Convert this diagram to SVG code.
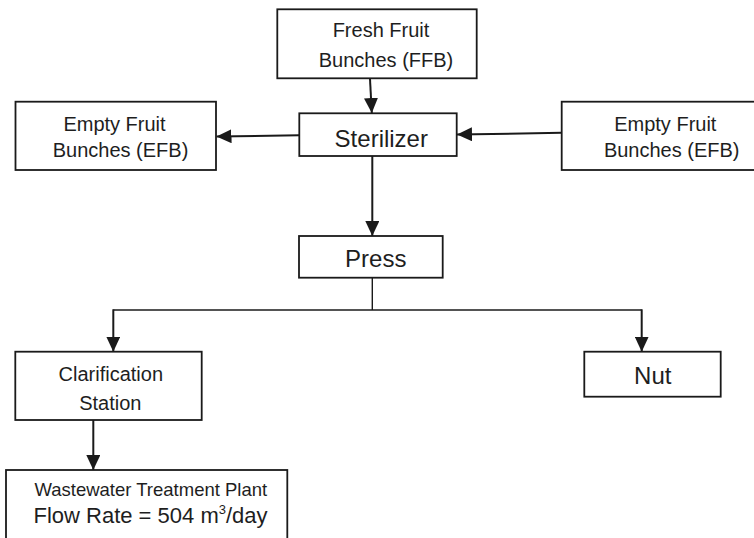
<svg xmlns="http://www.w3.org/2000/svg" width="754" height="538" viewBox="0 0 754 538">
<style>
.box{fill:#fff;stroke:#1a1a1a;stroke-width:1.8}
.t{font-family:"Liberation Sans",Arial,sans-serif;fill:#1e1e1e;text-anchor:middle}
.s{font-size:20px}
.b{font-size:24px}
.c{fill:none;stroke:#1a1a1a;stroke-width:2}
.thin{stroke-width:1.4}
</style>
<defs>
<marker id="ah" markerUnits="userSpaceOnUse" markerWidth="15" markerHeight="14" refX="15" refY="7" orient="auto">
<path d="M0,0 L15,7 L0,14 z" fill="#1a1a1a"/>
</marker>
</defs>
<rect width="754" height="538" fill="#fff"/>
<g id="connectors">
<line class="c" x1="370" y1="79" x2="371.8" y2="113" marker-end="url(#ah)"/>
<line class="c" x1="299.5" y1="135.3" x2="216.5" y2="136.6" marker-end="url(#ah)"/>
<line class="c" x1="561.7" y1="132.7" x2="457" y2="134.6" marker-end="url(#ah)"/>
<line class="c" x1="372.3" y1="156" x2="372.3" y2="236" marker-end="url(#ah)"/>
<polyline class="c thin" points="372.3,277.7 372.3,310"/>
<polyline class="c thin" points="113.3,310 641.7,310"/>
<line class="c" x1="113.3" y1="309.3" x2="113.3" y2="351.7" marker-end="url(#ah)"/>
<line class="c" x1="641.7" y1="309.3" x2="641.7" y2="351.7" marker-end="url(#ah)"/>
<line class="c" x1="93.3" y1="420" x2="93.3" y2="470" marker-end="url(#ah)"/>
</g>
<g id="ffb">
<rect class="box" x="277.3" y="9.3" width="199.4" height="69"/>
<text class="t s" x="381" y="37.3">Fresh Fruit</text>
<text class="t s" x="386" y="66.7">Bunches (FFB)</text>
</g>
<g id="sterilizer">
<rect class="box" x="299.3" y="113.3" width="157.4" height="42.7"/>
<text class="t b" x="381.3" y="146.7">Sterilizer</text>
</g>
<g id="efb-left">
<rect class="box" x="15.5" y="101.7" width="200.5" height="68.3"/>
<text class="t s" x="114.5" y="130.7">Empty Fruit</text>
<text class="t s" x="120.5" y="156.7">Bunches (EFB)</text>
</g>
<g id="efb-right">
<rect class="box" x="561.7" y="101.7" width="210" height="68.3"/>
<text class="t s" x="665.3" y="130.7">Empty Fruit</text>
<text class="t s" x="671.7" y="156.7">Bunches (EFB)</text>
</g>
<g id="press">
<rect class="box" x="299" y="236" width="143.7" height="41.7"/>
<text class="t b" x="375.8" y="266.7">Press</text>
</g>
<g id="clarification">
<rect class="box" x="15.3" y="351.7" width="186.4" height="68.3"/>
<text class="t s" x="110.8" y="381">Clarification</text>
<text class="t s" x="110.3" y="410">Station</text>
</g>
<g id="nut">
<rect class="box" x="584.3" y="351.7" width="136.4" height="45"/>
<text class="t b" x="652.8" y="384">Nut</text>
</g>
<g id="wwtp">
<rect class="box" x="6" y="470" width="281.3" height="90"/>
<text class="t" style="font-size:18.5px" x="150.8" y="495.7">Wastewater Treatment Plant</text>
<text class="t" style="font-size:22px" x="150.5" y="522.7">Flow Rate = 504 m<tspan style="font-size:13px" dy="-9">3</tspan><tspan dy="9">/day</tspan></text>
</g>
</svg>
